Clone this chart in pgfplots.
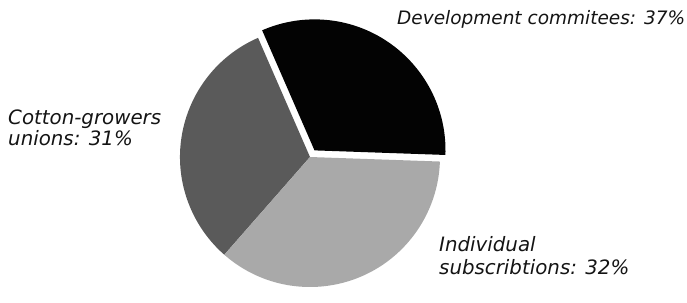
\documentclass[border=0pt]{standalone}
\usepackage{fontspec}
\setmainfont{DejaVu Sans}
\usepackage{pgfplots}
\pgfplotsset{compat=1.18}
\usepackage{pgfplotstable}

% shares of the pie (percent of the full circle, as drawn)
\pgfplotstableread{
share
32.1
32.0
35.9
}\piedata
\pgfplotstablegetelem{0}{share}\of\piedata \let\sA\pgfplotsretval
\pgfplotstablegetelem{1}{share}\of\piedata \let\sB\pgfplotsretval
\pgfplotstablegetelem{2}{share}\of\piedata \let\sC\pgfplotsretval
\pgfmathsetmacro\aA{-2}
\pgfmathsetmacro\aB{\aA+3.6*\sA}
\pgfmathsetmacro\aC{\aB+3.6*\sB}
\pgfmathsetmacro\aD{\aC+3.6*\sC}
\pgfmathsetmacro\aMid{(\aA+\aB)/2}
\pgfmathsetmacro\exX{310+8*cos(\aMid)}
\pgfmathsetmacro\exY{133+8*sin(\aMid)}

\definecolor{darkslice}{HTML}{5A5A5A}
\definecolor{lightslice}{HTML}{A9A9A9}
\definecolor{blackslice}{HTML}{030303}

\begin{document}
\begin{tikzpicture}
\begin{axis}[
  scale only axis, width=687pt, height=290pt,
  xmin=0, xmax=687, ymin=0, ymax=290,
  hide axis, clip=false,
]
\path (axis cs:0,0) rectangle (axis cs:687,290);
% Development commitees (exploded)
\fill[blackslice] (axis cs:\exX,\exY) -- ++(\aA:131pt) arc[start angle=\aA, end angle=\aB, radius=131pt] -- cycle;
% Cotton-growers unions
\fill[darkslice] (axis cs:310,133) -- ++(\aB:130pt) arc[start angle=\aB, end angle=\aC, radius=130pt] -- cycle;
% Individual subscriptions
\fill[lightslice] (axis cs:310,133) -- ++(\aC:130pt) arc[start angle=\aC, end angle=\aD, radius=130pt] -- cycle;

\tikzset{lbl/.style={anchor=west, inner sep=0pt, font=\fontsize{18.5}{20}\selectfont\itshape, text=black!92}}
\node[lbl] at (axis cs:397,271) {Development commitees: 37\%};
\node[lbl, font=\fontsize{19.8}{21}\selectfont\itshape] at (axis cs:8,171) {Cotton-growers};
\node[lbl, font=\fontsize{19.8}{21}\selectfont\itshape] at (axis cs:8,152) {unions: 31\%};
\node[lbl, font=\fontsize{19.8}{21}\selectfont\itshape] at (axis cs:439,46) {Individual};
\node[lbl, font=\fontsize{19.8}{21}\selectfont\itshape] at (axis cs:439,23) {subscribtions: 32\%};
\end{axis}
\end{tikzpicture}
\end{document}
